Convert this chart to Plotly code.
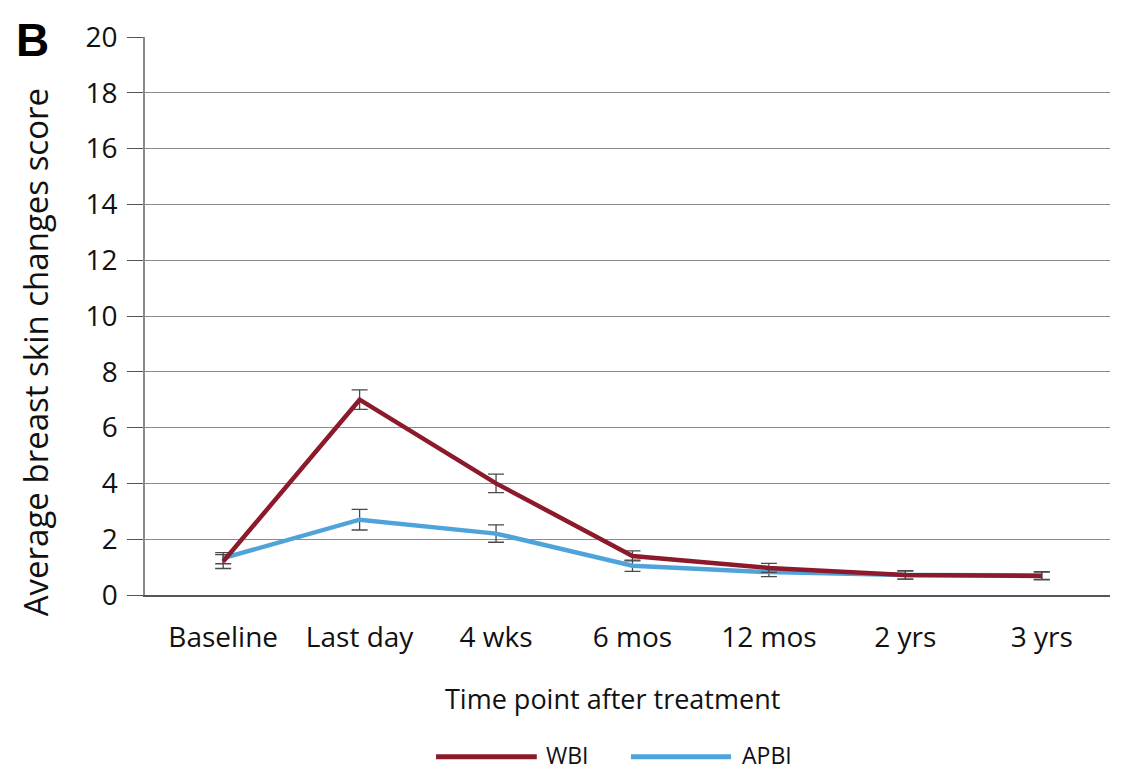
import plotly.graph_objects as go

categories = ["Baseline", "Last day", "4 wks", "6 mos", "12 mos", "2 yrs", "3 yrs"]
wbi = [1.2, 7.0, 4.0, 1.4, 0.97, 0.72, 0.68]
wbi_err = [0.25, 0.35, 0.33, 0.18, 0.16, 0.15, 0.14]
apbi = [1.32, 2.7, 2.2, 1.05, 0.82, 0.72, 0.7]
apbi_err = [0.2, 0.37, 0.31, 0.2, 0.16, 0.15, 0.14]
yticks = [0, 2, 4, 6, 8, 10, 12, 14, 16, 18, 20]

font = "Open Sans"
err_color = "#4a4a4a"
txt = "#111111"

fig = go.Figure()
fig.add_trace(go.Scatter(
    x=categories, y=apbi, mode="lines", name="APBI",
    line=dict(color="#4fa3db", width=4.5),
    error_y=dict(type="data", array=apbi_err, color=err_color, thickness=1.3, width=8),
))
fig.add_trace(go.Scatter(
    x=categories, y=wbi, mode="lines", name="WBI",
    line=dict(color="#8c1a2b", width=4.5),
    error_y=dict(type="data", array=wbi_err, color=err_color, thickness=1.3, width=8),
))

fig.update_layout(
    width=1132, height=771,
    margin=dict(l=145, r=22, t=37, b=176),
    paper_bgcolor="white", plot_bgcolor="white",
    showlegend=False,
    font=dict(family=font, color=txt),
)
fig.update_xaxes(
    type="category", range=[-0.573, 6.5],
    showgrid=False, showline=True, linecolor="#555555", linewidth=2,
    ticks="", tickfont=dict(size=28, family=font, color=txt), ticklabelstandoff=16,
)
fig.update_yaxes(
    range=[0, 20], tickvals=yticks, showgrid=True, gridcolor="#8a8a8a", gridwidth=1,
    showline=True, linecolor="#8a8a8a", linewidth=1.5,
    ticks="outside", ticklen=16, tickcolor="#555555", tickwidth=1.3,
    tickfont=dict(size=28, family=font, color=txt), zeroline=False, ticklabelstandoff=4,
)

# Axis titles
fig.add_annotation(text="Average breast skin changes score", xref="paper", yref="paper",
                   x=-0.114, y=0.435, textangle=-90, showarrow=False,
                   xanchor="center", yanchor="middle",
                   font=dict(size=33, family=font, color=txt))
fig.add_annotation(text="Time point after treatment", xref="paper", yref="paper",
                   x=0.4845, y=-0.185, showarrow=False, xanchor="center", yanchor="middle",
                   font=dict(size=27, family=font, color=txt))

# Panel label
fig.add_annotation(text="<b>B</b>", xref="paper", yref="paper", x=-0.1358, y=1.045,
                   xanchor="left", yanchor="top", showarrow=False,
                   font=dict(size=46, family="Liberation Sans", color="black"))

# Custom legend (long line samples)
leg_y = -0.290
for x0, x1, color, label, tx in [(0.3016, 0.406, "#8c1a2b", "WBI", 0.4135),
                                 (0.5036, 0.6073, "#4fa3db", "APBI", 0.6166)]:
    fig.add_shape(type="line", xref="paper", yref="paper", x0=x0, x1=x1, y0=leg_y, y1=leg_y,
                  line=dict(color=color, width=5))
    fig.add_annotation(text=label, xref="paper", yref="paper", x=tx, y=leg_y + 0.004,
                       xanchor="left", yanchor="middle", showarrow=False,
                       font=dict(size=23, family=font, color=txt))

fig.write_html("out.html", config={"displayModeBar": False},
               post_script="document.body.style.margin='0';")
